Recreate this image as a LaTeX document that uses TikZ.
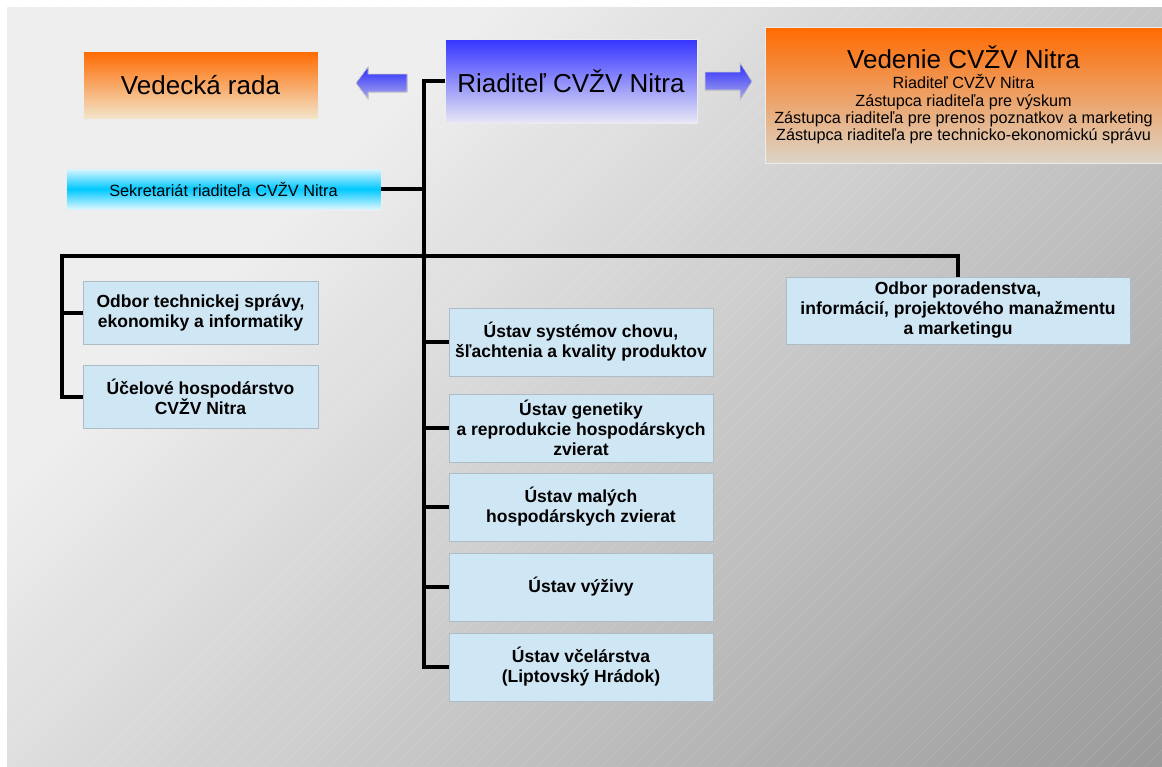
\documentclass[tikz,border=0pt]{standalone}
\usepackage{fontspec}
\setmainfont{Liberation Sans}
\definecolor{boxblue}{HTML}{CFE6F4}
\definecolor{boxline}{HTML}{B0BCC4}
\definecolor{orangetop}{HTML}{FF6A00}
\definecolor{creambot}{HTML}{F2E6CC}
\definecolor{greybeige}{HTML}{DCD5C8}
\definecolor{bluetop}{HTML}{3434FF}
\definecolor{bluebot}{HTML}{E8E8F6}
\definecolor{arrowtop}{HTML}{2C2CFF}
\definecolor{arrowbot}{HTML}{ACACE8}
\definecolor{cyanmid}{HTML}{00C8FF}
\definecolor{cyanedge}{HTML}{E4F8FF}
\begin{document}
\begin{tikzpicture}[x=1pt,y=-1pt,
  unitbox/.style={draw=boxline, line width=0.8pt, fill=boxblue, inner sep=0pt,
    minimum width=#1, align=center,
    font=\fontsize{17.5}{20}\selectfont\bfseries},
  unitbox/.default=235pt,
  conn/.style={line width=4pt, black, line join=miter},
  blockarrow/.style={top color=arrowtop, bottom color=arrowbot, draw=black!20, line width=0.6pt}
]
\useasboundingbox (0,0) rectangle (1162,766);
\fill[white] (0,0) rectangle (1162,766);
% background panel with diagonal gradient
\begin{scope}
  \clip (7,7) rectangle (1162,766);
  \foreach \s in {0,16,...,1936} {
    \pgfmathsetmacro\g{(\s+8<500) ? 0.933 : (0.933-0.329*(\s+8-500)/1428)}
    \definecolor{bgc}{gray}{\g}
    \fill[bgc] (\s,0) -- (\s+17,0) -- (\s+17-2000,2000) -- (\s-2000,2000) -- cycle;
  }
  \foreach \s in {8,24,...,1944} {
    \draw[white, opacity=0.13, line width=0.5pt] (\s,0) -- (\s-1000,1000);
  }
\end{scope}

% top row
\node[top color=orangetop, bottom color=creambot, draw=white!85!gray, line width=0.6pt,
  minimum width=235pt, minimum height=68pt, inner sep=0pt,
  font=\fontsize{26}{28}\selectfont] (vr) at (200.5,85) {Vedecká rada};
\node[top color=bluetop, bottom color=bluebot, draw=white!85!gray, line width=0.6pt,
  minimum width=252pt, minimum height=84pt, inner sep=0pt,
  font=\fontsize{26}{28}\selectfont] (rd) at (571,81) {Riaditeľ CVŽV Nitra};
\node[top color=orangetop, bottom color=greybeige, draw=white!85!gray, line width=0.6pt,
  minimum width=397pt, minimum height=136pt, inner sep=0pt, align=center,
  font=\fontsize{16.2}{17.3}\selectfont] (vd) at (963.5,95)
  {{\fontsize{26}{26}\selectfont Vedenie CVŽV Nitra}\\[3pt]
   Riaditeľ CVŽV Nitra\\
   Zástupca riaditeľa pre výskum\\
   Zástupca riaditeľa pre prenos poznatkov a marketing\\
   Zástupca riaditeľa pre technicko-ekonomickú správu};

% block arrows
\fill[blockarrow] (356,83) -- (368,67) -- (368,74) -- (407,74) -- (407,92) -- (368,92) -- (368,99) -- cycle;
\fill[blockarrow] (752,81.5) -- (740,63) -- (740,72) -- (705,72) -- (705,90) -- (740,90) -- (740,100) -- cycle;

% secretariat
\node[top color=cyanedge, bottom color=cyanedge, middle color=cyanmid, draw=white!85!gray, line width=0.6pt,
  minimum width=315pt, minimum height=42pt, inner sep=0pt,
  font=\fontsize{16.3}{18}\selectfont] (sk) at (223.5,189) {Sekretariát riaditeľa CVŽV Nitra};

% unit boxes
\node[unitbox, minimum height=63pt] (ot) at (200.5,312.5) {Odbor technickej správy,\\ekonomiky a informatiky};
\node[unitbox, minimum height=63pt] (uh) at (200.5,396.5) {Účelové hospodárstvo\\CVŽV Nitra};
\node[unitbox=264pt, minimum height=68pt] (u1) at (581,342) {Ústav systémov chovu,\\šľachtenia a kvality produktov};
\node[unitbox=264pt, minimum height=68pt] (u2) at (581,428) {Ústav genetiky\\a reprodukcie hospodárskych\\zvierat};
\node[unitbox=264pt, minimum height=68pt] (u3) at (581,507) {Ústav malých\\hospodárskych zvierat};
\node[unitbox=264pt, minimum height=68pt] (u4) at (581,587) {Ústav výživy};
\node[unitbox=264pt, minimum height=68pt] (u5) at (581,667) {Ústav včelárstva\\(Liptovský Hrádok)};
\node[unitbox=344pt, minimum height=67pt] (op) at (958,310.5) {Odbor poradenstva,\\informácií, projektového manažmentu\\a marketingu};

% connectors
\coordinate (t0) at (424,81);
\coordinate (busL) at (62,256);
\draw[conn] (rd.west) -- (t0) |- (u5.west);
\draw[conn] (sk.east) -- (sk.east -| t0);
\draw[conn] (op.north) |- (busL) |- (uh.west);
\draw[conn] (ot.west) -- (ot.west -| busL);
\draw[conn] (u1.west) -- (u1.west -| t0);
\draw[conn] (u2.west) -- (u2.west -| t0);
\draw[conn] (u3.west) -- (u3.west -| t0);
\draw[conn] (u4.west) -- (u4.west -| t0);
\end{tikzpicture}
\end{document}
